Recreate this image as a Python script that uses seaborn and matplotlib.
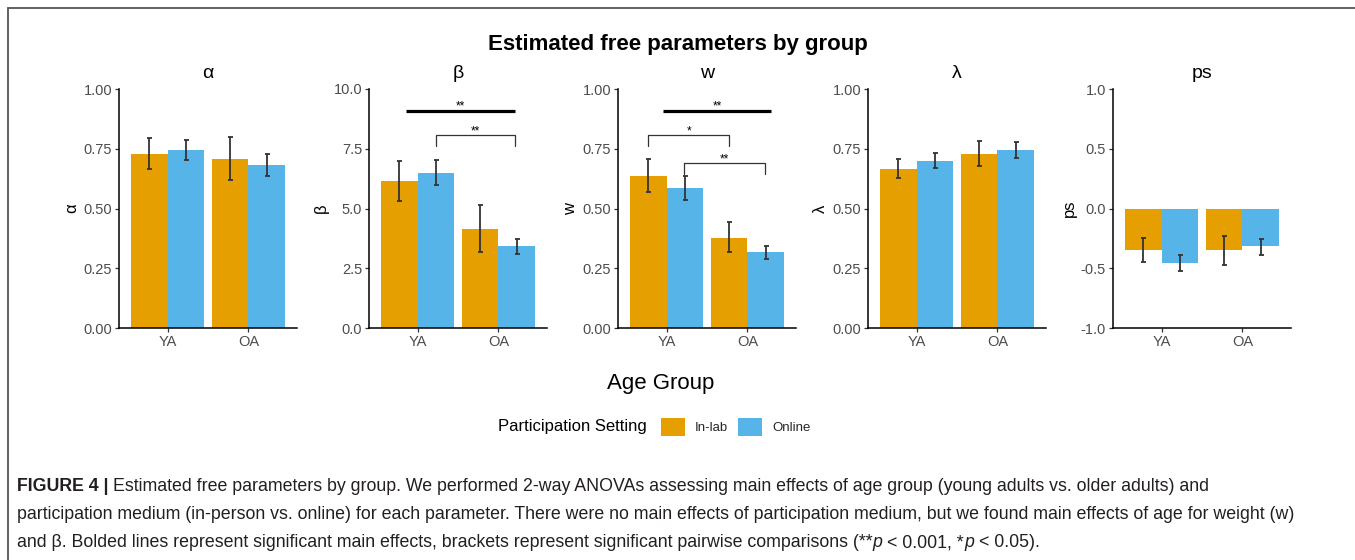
import numpy as np
import pandas as pd
import matplotlib
matplotlib.use("Agg")
import matplotlib.pyplot as plt
import seaborn as sns
from matplotlib.patches import Patch
from matplotlib.lines import Line2D

# ---------------- data ----------------
groups = ["YA", "OA"]
settings = ["In-lab", "Online"]
colors = ["#E69F00", "#56B4E9"]
params = ["α", "β", "w", "λ", "ps"]

# order of values: YA In-lab, YA Online, OA In-lab, OA Online
alpha_mean = [0.729, 0.745, 0.708, 0.681]
alpha_low = [0.665, 0.704, 0.621, 0.635]
alpha_high = [0.796, 0.787, 0.799, 0.728]

beta_mean = [6.15, 6.49, 4.14, 3.42]
beta_low = [5.33, 5.97, 3.17, 3.11]
beta_high = [6.97, 7.04, 5.16, 3.72]

w_mean = [0.637, 0.586, 0.377, 0.318]
w_low = [0.568, 0.537, 0.317, 0.290]
w_high = [0.707, 0.637, 0.442, 0.342]

lam_mean = [0.665, 0.699, 0.729, 0.745]
lam_low = [0.628, 0.668, 0.676, 0.711]
lam_high = [0.707, 0.731, 0.784, 0.777]

ps_mean = [-0.347, -0.456, -0.350, -0.317]
ps_low = [-0.450, -0.526, -0.476, -0.390]
ps_high = [-0.247, -0.390, -0.233, -0.252]

means = [alpha_mean, beta_mean, w_mean, lam_mean, ps_mean]
lows = [alpha_low, beta_low, w_low, lam_low, ps_low]
highs = [alpha_high, beta_high, w_high, lam_high, ps_high]

ylims = [(0, 1), (0, 10), (0, 1), (0, 1), (-1, 1)]
yticks = [[0, 0.25, 0.5, 0.75, 1.0], [0, 2.5, 5, 7.5, 10],
          [0, 0.25, 0.5, 0.75, 1.0], [0, 0.25, 0.5, 0.75, 1.0],
          [-1, -0.5, 0, 0.5, 1]]
ytick_labels = [["0.00", "0.25", "0.50", "0.75", "1.00"],
                ["0.0", "2.5", "5.0", "7.5", "10.0"],
                ["0.00", "0.25", "0.50", "0.75", "1.00"],
                ["0.00", "0.25", "0.50", "0.75", "1.00"],
                ["-1.0", "-0.5", "0.0", "0.5", "1.0"]]

# significance marks: (panel, x0, x1, y, label, kind)
sig_marks = [
    (1, -0.14, 1.20, 9.09, "**", "main"),
    (1, 0.225, 1.20, 8.06, "**", "bracket"),
    (2, -0.04, 1.285, 0.909, "**", "main"),
    (2, -0.225, 0.775, 0.806, "*", "bracket"),
    (2, 0.215, 1.215, 0.689, "**", "bracket"),
]

caption_lines = [
    [("FIGURE 4 |", "bold", True),
     ("Estimated free parameters by group. We performed 2-way ANOVAs assessing main effects of age group (young adults vs. older adults) and", "normal", False)],
    [("participation medium (in-person vs. online) for each parameter. There were no main effects of participation medium, but we found main effects of age for weight (w)", "normal", False)],
    [("and β. Bolded lines represent significant main effects, brackets represent significant pairwise comparisons (**", "normal", False),
     ("p", "italic", True),
     ("< 0.001, *", "normal", False),
     ("p", "italic", True),
     ("< 0.05).", "normal", False)],
]

# ---------------- style ----------------
sns.set_theme(style="white")
plt.rcParams["font.family"] = ["Liberation Sans", "DejaVu Sans"]
plt.rcParams["axes.unicode_minus"] = False

W, H = 1355, 560
fig = plt.figure(figsize=(W / 100, H / 100), dpi=100)
fig.patch.set_facecolor("white")

ax_lefts = [119, 369, 618, 868, 1113]
ax_w = 178
ax_top, ax_bottom = 89, 328

for i, p in enumerate(params):
    ax = fig.add_axes([ax_lefts[i] / W, 1 - ax_bottom / H, ax_w / W, (ax_bottom - ax_top) / H])
    df = pd.DataFrame({
        "group": [g for g in groups for s in settings],
        "setting": [s for g in groups for s in settings],
        "value": means[i],
    })
    sns.barplot(data=df, x="group", y="value", hue="setting", order=groups,
                hue_order=settings, palette=colors, width=0.9, gap=0,
                errorbar=None, legend=False, saturation=1, linewidth=0, ax=ax)
    xs, ms, lo, hi = [], [], [], []
    for h, cont in enumerate(ax.containers):
        for g, bar in enumerate(cont):
            k = g * 2 + h
            xs.append(bar.get_x() + bar.get_width() / 2)
            ms.append(means[i][k])
            lo.append(lows[i][k])
            hi.append(highs[i][k])
    ms, lo, hi = np.array(ms), np.array(lo), np.array(hi)
    ax.errorbar(xs, ms, yerr=[ms - lo, hi - ms], fmt="none", ecolor="#333333",
                elinewidth=1.3, capsize=1.8, capthick=1.3, zorder=5)
    ax.set_xlim(-0.6, 1.6)
    ax.set_ylim(*ylims[i])
    ax.set_yticks(yticks[i])
    ax.set_yticklabels(ytick_labels[i])
    ax.set_xlabel("")
    ax.set_ylabel(p, fontsize=12, color="black", labelpad=3)
    ax.set_title(p, fontsize=14, color="black", y=1 + 11 / 239, pad=0)
    for side in ["top", "right"]:
        ax.spines[side].set_visible(False)
    for side in ["left", "bottom"]:
        ax.spines[side].set_color("black")
        ax.spines[side].set_linewidth(1.1)
    ax.tick_params(axis="both", direction="out", length=3, width=0.9, color="#333333",
                   labelcolor="#4D4D4D", labelsize=10.5, pad=2, left=True, bottom=True)
    ax.set_facecolor("white")
    ax.grid(False)

    rng = ylims[i][1] - ylims[i][0]
    for (pi, x0, x1, y, lab, kind) in sig_marks:
        if pi != i:
            continue
        if kind == "main":
            ax.plot([x0, x1], [y, y], color="black", lw=2.3, solid_capstyle="butt", clip_on=False)
        else:
            leg = 0.043 * rng
            ax.plot([x0, x0, x1, x1], [y - leg, y, y, y - leg], color="#333333", lw=0.9, clip_on=False)
        ax.annotate(lab, ((x0 + x1) / 2, y), xytext=(0, 1), textcoords="offset points",
                    ha="center", va="baseline", fontsize=8.5, color="black")

# main title and x label
fig.text(0.5, 1 - 50 / H, "Estimated free parameters by group", ha="center", va="baseline",
         fontsize=16, fontweight="bold", color="black")
fig.text(661 / W, 1 - 383 / H, "Age Group", ha="center", va="center", fontsize=16, color="black")

# legend
fig.text(498 / W, 1 - 427 / H, "Participation Setting", ha="left", va="center", fontsize=12, color="black")
handles = [Patch(facecolor=c, edgecolor="none", label=s) for c, s in zip(colors, settings)]
fig.legend(handles=handles, loc="center left", bbox_to_anchor=(661 / W, 1 - 427 / H),
           ncol=2, frameon=False, fontsize=9.5, handlelength=1.8, handleheight=1.8,
           handletextpad=0.75, columnspacing=0.8, borderpad=0, borderaxespad=0)

# frame lines
fig.add_artist(Line2D([8 / W, 8 / W], [0, 1 - 8 / H], transform=fig.transFigure, color="#555555", lw=1.3))
fig.add_artist(Line2D([8 / W, 1], [1 - 8 / H, 1 - 8 / H], transform=fig.transFigure, color="#555555", lw=1.3))

# caption
renderer = fig.canvas.get_renderer()
cap_size = 12.8
cap_color = "#231F20"


def text_props(style):
    if style == "bold":
        return dict(fontweight="bold")
    if style == "italic":
        return dict(fontstyle="italic")
    return {}


def adv(s, style):
    t1 = fig.text(0, 0, "|" + s + "|", fontsize=cap_size, **text_props(style))
    t2 = fig.text(0, 0, "||", fontsize=cap_size, **text_props(style))
    w = t1.get_window_extent(renderer).width - t2.get_window_extent(renderer).width
    t1.remove()
    t2.remove()
    return w


space_w = adv(" ", "normal")
baselines = [491, 519, 547]
for line, yb in zip(caption_lines, baselines):
    x = 17
    for s, style, sp in line:
        fig.text(x / W, 1 - yb / H, s, fontsize=cap_size, ha="left", va="baseline",
                 color=cap_color, **text_props(style))
        x += adv(s, style)
        if sp:
            x += space_w

fig.savefig("out.png", dpi=100, facecolor="white")
